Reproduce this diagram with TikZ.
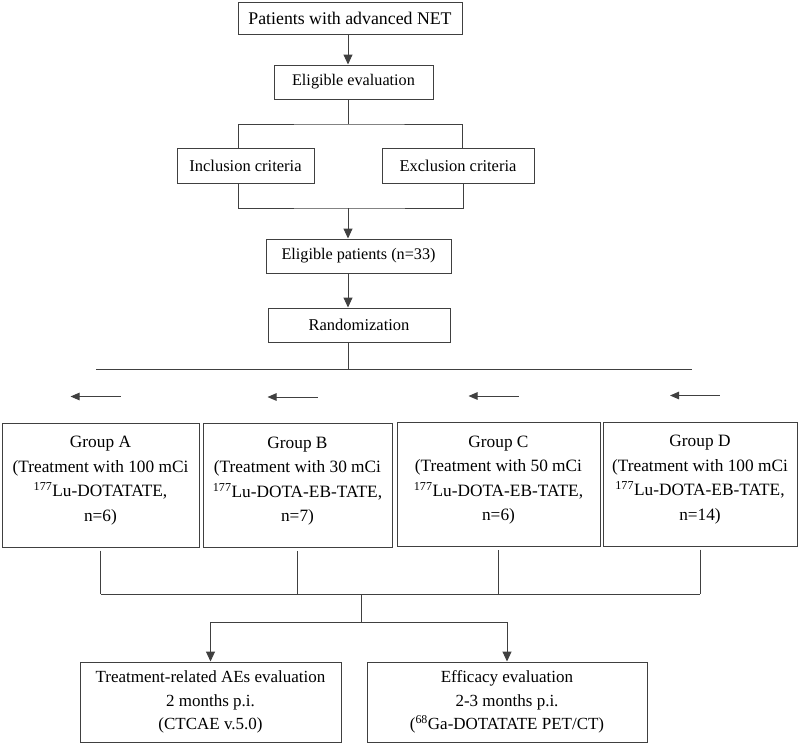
\documentclass[tikz,border=0pt]{standalone}
\usepackage{fontspec}
\setmainfont{Liberation Serif}
\usetikzlibrary{arrows.meta}

\tikzset{
  box/.style={draw=black!75, line width=1pt, align=center, inner sep=0pt,
    font=\fontsize{16.5}{24}\selectfont},
  grp/.style={box, minimum height=124, font=\fontsize{17.3}{24.5}\selectfont},
  link/.style={draw=black!75, line width=1pt},
  arr/.style={link, -{Triangle[length=10pt,width=9pt]}},
  larr/.style={link, {Triangle[length=9pt,width=7.5pt]}-},
}
\newcommand{\lu}{\textsuperscript{177}Lu}

\begin{document}
\begin{tikzpicture}[x=1pt,y=-1pt]
    \useasboundingbox (0,0) rectangle (800,745);

    % screening
    \node[box, minimum width=224, minimum height=32, font=\fontsize{17.8}{24}\selectfont] (net) at (350,18) {Patients with advanced NET};
    \node[box, minimum width=159, minimum height=34, font=\fontsize{16.2}{24}\selectfont] (elig) at (353.5,82) {Eligible evaluation};
    \node[box, minimum width=137, minimum height=35] (incl) at (245.5,165.5) {Inclusion criteria};
    \node[box, minimum width=152, minimum height=35] (excl) at (458,165.5) {Exclusion criteria};
    \node[box, minimum width=185, minimum height=34, font=\fontsize{16.2}{24}\selectfont] (pats) at (358.5,256) {Eligible patients (n=33)};
    \node[box, minimum width=182, minimum height=34] (rand) at (359,325) {Randomization};

    \coordinate (spine) at (348,0);
    \coordinate (upper) at (348,124);
    \coordinate (lower) at (348,208);
    \coordinate (rsplitL) at (96,369);
    \coordinate (rsplitR) at (692,369);

    \draw[arr] (net.south -| spine) -- (elig.north -| spine);
    \draw[link] (elig.south -| spine) -- (upper);
    \draw[link] ([xshift=-7.5pt]incl.north) |- (upper) -| ([xshift=4pt]excl.north);
    \draw[link] ([xshift=-7.5pt]incl.south) |- (lower) -| ([xshift=5pt]excl.south);
    \draw[arr] (lower) -- (pats.north -| spine);
    \draw[arr] (pats.south -| spine) -- (rand.north -| spine);
    \draw[link] (rand.south -| spine) -- (spine |- rsplitL);
    \draw[link] (rsplitL) -- (rsplitR);

    % groups
    \node[grp, minimum width=197] (grpA) at (100.5,485) {Group A\\(Treatment with 100 mCi\\\lu-DOTATATE,\\n=6)\rule[-12pt]{0pt}{12pt}};
    \node[grp, minimum width=189] (grpB) at (297.5,485.5) {Group B\\(Treatment with 30 mCi\\\lu-DOTA-EB-TATE,\\n=7)\rule[-12pt]{0pt}{12pt}};
    \node[grp, minimum width=203] (grpC) at (498.5,484.5) {Group C\\(Treatment with 50 mCi\\\lu-DOTA-EB-TATE,\\n=6)\rule[-12pt]{0pt}{12pt}};
    \node[grp, minimum width=194] (grpD) at (700,484) {Group D\\(Treatment with 100 mCi\\\lu-DOTA-EB-TATE,\\n=14)\rule[-12pt]{0pt}{12pt}};

    \foreach \g in {A,B,C,D}
        \draw[larr] ([shift={(-30,-26)}]grp\g.north) -- ++(50,0);

    % follow-up
    \node[box, minimum width=261, minimum height=80, font=\fontsize{17}{23.5}\selectfont] (aes) at (210.5,702) {Treatment-related AEs evaluation\\2 months p.i.\\(CTCAE v.5.0)};
    \node[box, minimum width=280, minimum height=80, font=\fontsize{17}{23.5}\selectfont] (eff) at (507,702) {Efficacy evaluation\\2-3 months p.i.\\(\textsuperscript{68}Ga-DOTATATE PET/CT)};

    \coordinate (merge) at (361,594);
    \coordinate (fork) at (361,622);

    \foreach \g in {A,B,C,D}
        \draw[link] ([yshift=-3pt]grp\g.south) -- (grp\g.south |- merge);
    \draw[link] (grpA.south |- merge) -- (grpD.south |- merge);
    \draw[link] (merge) -- (fork);
    \draw[arr] (fork) -| (aes.north);
    \draw[arr] (fork) -| (eff.north);
\end{tikzpicture}
\end{document}
